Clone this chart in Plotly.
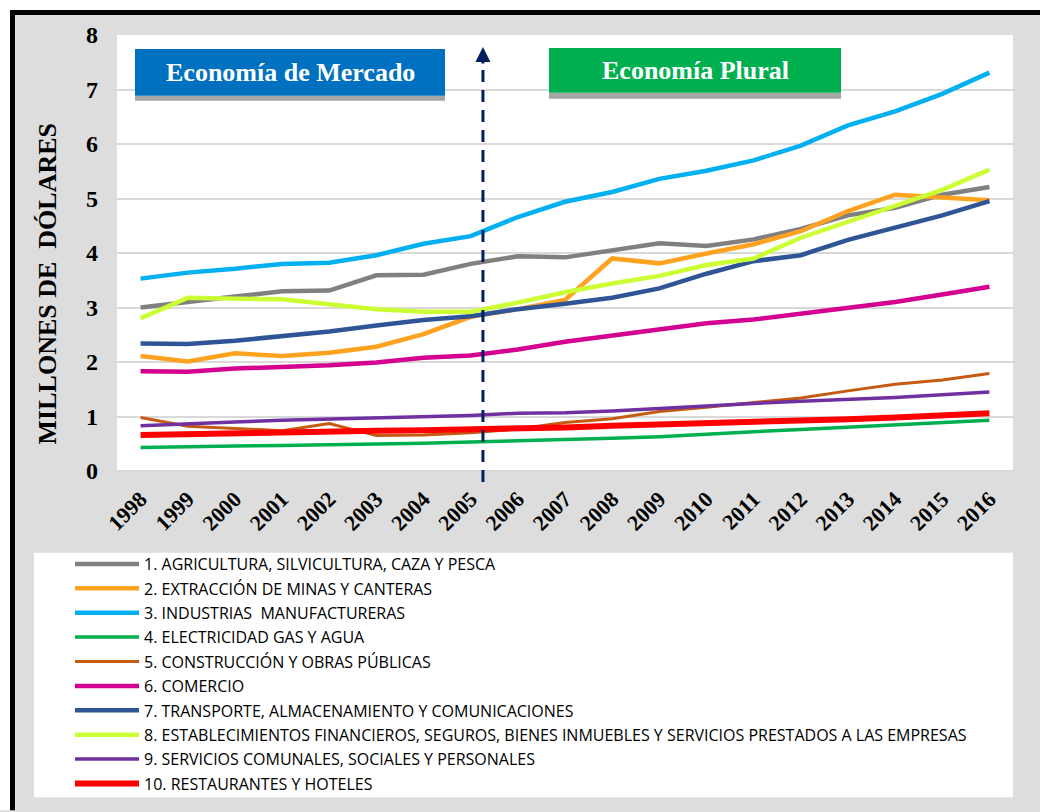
import plotly.graph_objects as go

years = [str(y) for y in range(1998, 2017)]

agricultura = [3.00, 3.09, 3.20, 3.30, 3.31, 3.59, 3.60, 3.80, 3.94, 3.92, 4.05, 4.18, 4.13, 4.25, 4.44, 4.69, 4.83, 5.07, 5.21]
extraccion = [2.11, 2.01, 2.16, 2.11, 2.17, 2.28, 2.51, 2.83, 2.97, 3.14, 3.90, 3.81, 3.99, 4.16, 4.40, 4.77, 5.07, 5.01, 4.97]
industrias = [3.53, 3.64, 3.71, 3.80, 3.82, 3.96, 4.17, 4.31, 4.66, 4.94, 5.12, 5.36, 5.51, 5.70, 5.97, 6.34, 6.60, 6.92, 7.31]
electricidad = [0.43, 0.45, 0.46, 0.47, 0.48, 0.49, 0.51, 0.53, 0.55, 0.57, 0.60, 0.63, 0.68, 0.72, 0.76, 0.80, 0.85, 0.89, 0.93]
construccion = [0.98, 0.82, 0.78, 0.74, 0.87, 0.65, 0.66, 0.70, 0.77, 0.89, 0.96, 1.09, 1.17, 1.26, 1.34, 1.47, 1.59, 1.67, 1.79]
comercio = [1.83, 1.82, 1.88, 1.90, 1.94, 1.99, 2.08, 2.12, 2.23, 2.37, 2.49, 2.61, 2.71, 2.78, 2.88, 3.00, 3.10, 3.24, 3.38]
transporte = [2.34, 2.33, 2.39, 2.47, 2.56, 2.67, 2.77, 2.84, 2.97, 3.07, 3.18, 3.35, 3.62, 3.85, 3.96, 4.24, 4.46, 4.69, 4.95]
financieros = [2.80, 3.18, 3.16, 3.15, 3.06, 2.97, 2.92, 2.92, 3.09, 3.28, 3.44, 3.58, 3.78, 3.90, 4.28, 4.57, 4.86, 5.16, 5.53]
servicios = [0.83, 0.87, 0.90, 0.93, 0.95, 0.97, 1.00, 1.02, 1.06, 1.07, 1.10, 1.15, 1.20, 1.24, 1.28, 1.31, 1.35, 1.40, 1.45]
restaurantes = [0.66, 0.68, 0.70, 0.71, 0.72, 0.74, 0.75, 0.76, 0.78, 0.80, 0.83, 0.85, 0.88, 0.90, 0.93, 0.95, 0.98, 1.02, 1.06]

names = [
    "1. AGRICULTURA, SILVICULTURA, CAZA Y PESCA",
    "2. EXTRACCIÓN DE MINAS Y CANTERAS",
    "3. INDUSTRIAS  MANUFACTURERAS",
    "4. ELECTRICIDAD GAS Y AGUA",
    "5. CONSTRUCCIÓN Y OBRAS PÚBLICAS",
    "6. COMERCIO",
    "7. TRANSPORTE, ALMACENAMIENTO Y COMUNICACIONES",
    "8. ESTABLECIMIENTOS FINANCIEROS, SEGUROS, BIENES INMUEBLES Y SERVICIOS PRESTADOS A LAS EMPRESAS",
    "9. SERVICIOS COMUNALES, SOCIALES Y PERSONALES",
    "10. RESTAURANTES Y HOTELES",
]
series = [agricultura, extraccion, industrias, electricidad, construccion,
          comercio, transporte, financieros, servicios, restaurantes]
colors = ["#808080", "#FFA21F", "#00B0F0", "#00B050", "#C55A11",
          "#D4008F", "#2F5597", "#CCFF33", "#7030A0", "#FF0000"]
widths = [4.5, 4.5, 4.5, 3.5, 3, 4.5, 4.5, 4.5, 3.5, 6]

W, H = 1040, 812
L, R, T, B = 117, 1013, 35, 472  # plot area in pixels


def px(x):
    return (x - L) / (R - L)


def py(y):
    return (B - y) / (B - T)


serif = "Liberation Serif, Times New Roman, serif"

fig = go.Figure()
for i, (name, vals) in enumerate(zip(names, series)):
    fig.add_trace(go.Scatter(
        x=years, y=vals, mode="lines", name=name,
        line=dict(color=colors[i], width=widths[i]),
        legendgroup=str(i),
    ))

shapes = [
    # black frame (top / left), white outside it
    dict(type="rect", xref="paper", yref="paper", x0=px(0), x1=px(W), y0=py(10), y1=py(0),
         fillcolor="white", line_width=0, layer="below"),
    dict(type="rect", xref="paper", yref="paper", x0=px(0), x1=px(10), y0=py(H), y1=py(0),
         fillcolor="white", line_width=0, layer="below"),
    dict(type="rect", xref="paper", yref="paper", x0=px(10), x1=px(W), y0=py(15), y1=py(10),
         fillcolor="black", line_width=0, layer="below"),
    dict(type="rect", xref="paper", yref="paper", x0=px(10), x1=px(15), y0=py(H), y1=py(10),
         fillcolor="black", line_width=0, layer="below"),
    # legend panel
    dict(type="rect", xref="paper", yref="paper", x0=px(34), x1=px(1013), y0=py(799), y1=py(554),
         fillcolor="white", line_width=0, layer="below"),
    # title boxes with shadow
    dict(type="rect", xref="paper", yref="paper", x0=px(135), x1=px(445), y0=py(101), y1=py(96),
         fillcolor="#A6A6A6", line_width=0),
    dict(type="rect", xref="paper", yref="paper", x0=px(135), x1=px(445), y0=py(96), y1=py(49),
         fillcolor="#0070C0", line_width=0),
    dict(type="rect", xref="paper", yref="paper", x0=px(549), x1=px(841), y0=py(99), y1=py(93),
         fillcolor="#A6A6A6", line_width=0),
    dict(type="rect", xref="paper", yref="paper", x0=px(549), x1=px(841), y0=py(93), y1=py(48),
         fillcolor="#00B050", line_width=0),
    # dashed divider
    dict(type="line", xref="x", yref="paper", x0=7.26, x1=7.26, y0=py(483), y1=py(58),
         line=dict(color="#002060", width=3, dash="12px,8px")),
]

annotations = [
    dict(xref="paper", yref="paper", x=px(290), y=py(73), xanchor="center", yanchor="middle",
         text="<b>Economía de Mercado</b>", showarrow=False,
         font=dict(family=serif, size=26, color="white")),
    dict(xref="paper", yref="paper", x=px(695), y=py(71), xanchor="center", yanchor="middle",
         text="<b>Economía Plural</b>", showarrow=False,
         font=dict(family=serif, size=26, color="white")),
    dict(xref="x", yref="paper", x=7.26, y=py(47), ax=0, ay=18, text="", showarrow=True,
         arrowhead=2, arrowsize=1, arrowwidth=3, arrowcolor="#002060"),
    # y axis title (sits lower than the plot centre in the original)
    dict(xref="paper", yref="paper", x=px(47), y=py(285), xanchor="center", yanchor="middle",
         text="<b>MILLONES DE  DÓLARES</b>", textangle=-90, showarrow=False,
         font=dict(family=serif, size=26, color="black")),
]

fig.update_layout(
    width=W, height=H,
    margin=dict(l=L, r=W - R, t=T, b=H - B),
    paper_bgcolor="#DDDDDD",
    plot_bgcolor="white",
    shapes=shapes,
    annotations=annotations,
    showlegend=True,
    # anchored at its bottom edge so the legend does not push the bottom margin
    legend=dict(
        x=px(70), y=py(801), xanchor="left", yanchor="bottom",
        bgcolor="rgba(0,0,0,0)", borderwidth=0,
        font=dict(family="Open Sans, sans-serif", size=16, color="black"),
        tracegroupgap=0.6, itemwidth=64,
    ),
    xaxis=dict(
        type="category", range=[-0.5, 18.5], showgrid=False, zeroline=False,
        tickangle=-45, tickfont=dict(family=serif, size=22, color="black", weight="bold"),
        ticks="", showline=False, ticklabelstandoff=10,
    ),
    yaxis=dict(
        range=[0, 8], dtick=1, showgrid=True, gridcolor="#D9D9D9", gridwidth=1.5,
        zeroline=True, zerolinecolor="#D9D9D9", zerolinewidth=1.5,
        tickfont=dict(family=serif, size=24, color="black", weight="bold"),
        ticklabelstandoff=18,
    ),
)

# drop the default page margin / scrollbars so the figure fills the window exactly
fig.write_html(
    "out.html",
    config={"displayModeBar": False},
    post_script=(
        "document.body.style.margin='0';"
        "document.body.style.overflow='hidden';"
        "document.documentElement.style.overflow='hidden';"
    ),
)
